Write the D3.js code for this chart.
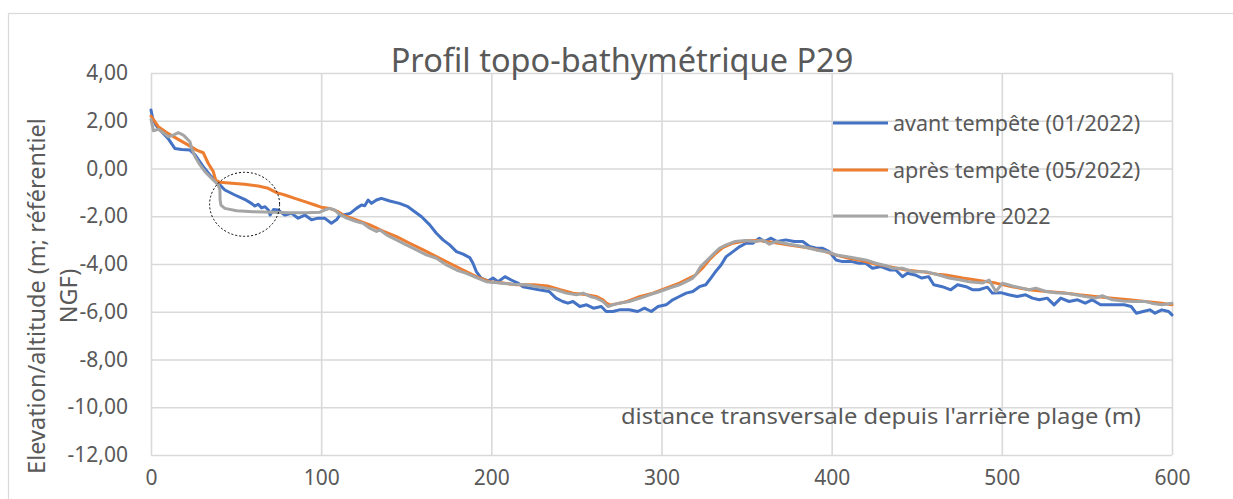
<!DOCTYPE html>
<html>
<head>
<meta charset="utf-8">
<script src="https://cdn.jsdelivr.net/npm/d3@7"></script>
<style>
  html, body { margin: 0; padding: 0; background: #ffffff; }
  svg { display: block; font-family: "Noto Sans", "Open Sans", sans-serif; }
</style>
</head>
<body>
<svg id="chart" width="1233" height="499"></svg>
<script>
// ---- Data ----
const title = "Profil topo-bathymétrique P29";
const yAxisTitle = ["Elevation/altitude (m; référentiel", "NGF)"];
const xAnnotation = "distance transversale depuis l'arrière plage (m)";
const seriesNames = ["avant tempête (01/2022)", "après tempête (05/2022)", "novembre 2022"];
const xTicks = [0, 100, 200, 300, 400, 500, 600];
const yTicks = [4, 2, 0, -2, -4, -6, -8, -10, -12];

const avant = [[0,2.45],[1,2.1],[3,1.8],[5.3,1.61],[10,1.26],[14,0.84],[18,0.80],[23,0.77],[26,0.56],[30.7,0.08],[34.6,-0.27],[38.6,-0.55],[43.4,-0.90],[49.3,-1.11],[55,-1.29],[59,-1.46],[61,-1.57],[63,-1.50],[65,-1.65],[67,-1.60],[69,-1.74],[70,-1.95],[72,-1.72],[74.7,-1.74],[78.6,-1.95],[82.6,-1.88],[86.5,-2.08],[90.4,-1.95],[94.3,-2.15],[98.2,-2.08],[102,-2.08],[106,-2.29],[109,-2.15],[111,-1.95],[113,-1.95],[117,-1.88],[120.7,-1.67],[123.7,-1.53],[125.6,-1.56],[127.6,-1.32],[129.6,-1.46],[132.5,-1.32],[135.4,-1.25],[140.3,-1.36],[146,-1.46],[151,-1.60],[155,-1.81],[159,-2.02],[163.8,-2.36],[167.7,-2.71],[171.6,-2.99],[175.5,-3.20],[179.5,-3.48],[183.4,-3.59],[187.3,-3.73],[189.2,-3.97],[191.2,-4.32],[194,-4.59],[198,-4.71],[201,-4.59],[204,-4.74],[208,-4.53],[211.7,-4.67],[215.6,-4.80],[218.6,-4.95],[222.5,-5.01],[228,-5.08],[234,-5.15],[238,-5.43],[242,-5.57],[245,-5.64],[248,-5.57],[252,-5.78],[256,-5.71],[260,-5.85],[264.6,-5.78],[267.5,-5.99],[271.4,-5.99],[275.3,-5.92],[281,-5.92],[286,-5.99],[290,-5.85],[294,-5.99],[298,-5.78],[302.7,-5.71],[306.6,-5.50],[310.5,-5.36],[314.5,-5.22],[318.4,-5.15],[322.3,-4.95],[326,-4.87],[329,-4.59],[332,-4.30],[335,-4.04],[338,-3.69],[342,-3.48],[346,-3.27],[349.7,-3.13],[353.6,-3.13],[357.5,-2.92],[360.4,-3.06],[364.4,-2.92],[368,-3.06],[373,-2.99],[378,-3.06],[383,-3.06],[387,-3.27],[391,-3.34],[394.7,-3.34],[398.6,-3.48],[402.5,-3.83],[406.4,-3.90],[412,-3.90],[416,-3.97],[420,-3.97],[424,-4.18],[429,-4.11],[434,-4.25],[437.7,-4.25],[441.6,-4.53],[444.5,-4.39],[449,-4.46],[453,-4.59],[457,-4.53],[460,-4.87],[465,-4.95],[470,-5.08],[474,-4.87],[479,-4.95],[483,-5.08],[486.6,-5.08],[491.5,-4.97],[494.4,-5.22],[499.4,-5.20],[504,-5.29],[509,-5.36],[514,-5.29],[518,-5.43],[522,-5.50],[526.7,-5.43],[530.7,-5.71],[534.6,-5.43],[539.5,-5.57],[544.5,-5.50],[549,-5.64],[553,-5.50],[558,-5.71],[562,-5.71],[567,-5.71],[572,-5.71],[576,-5.78],[579,-6.06],[583,-5.99],[587,-5.92],[590,-6.06],[594,-5.92],[598,-5.99],[600,-6.13]];

const apres = [[0,2.2],[4.3,1.75],[10,1.47],[16,1.22],[22,0.98],[26.8,0.77],[30.7,0.66],[33.6,0.22],[36.6,-0.13],[38,-0.48],[40.5,-0.58],[47.4,-0.62],[55,-0.66],[63,-0.73],[68.9,-0.83],[73.8,-1.01],[78.7,-1.11],[84.5,-1.25],[90.4,-1.39],[96.3,-1.53],[100,-1.62],[105,-1.67],[110,-1.81],[113,-1.95],[120.7,-2.15],[128.6,-2.36],[136.4,-2.62],[144.3,-2.85],[152,-3.13],[160,-3.41],[167.7,-3.69],[175.5,-3.97],[183.4,-4.25],[191.2,-4.53],[199,-4.74],[207,-4.80],[214.6,-4.87],[225,-4.87],[233,-4.92],[240.5,-5.08],[248,-5.22],[256,-5.29],[261.6,-5.36],[265.6,-5.50],[267.6,-5.64],[270,-5.72],[273.4,-5.67],[279.8,-5.57],[287.5,-5.36],[295,-5.22],[302.7,-5.01],[310.5,-4.80],[316.4,-4.59],[320,-4.46],[324,-4.18],[328,-3.83],[332,-3.55],[336,-3.31],[342,-3.13],[349.7,-3.03],[357.5,-3.02],[365,-3.09],[375,-3.20],[385,-3.31],[394.7,-3.45],[402.5,-3.62],[410,-3.76],[418,-3.87],[426,-4.01],[434,-4.11],[443.6,-4.25],[453,-4.32],[462,-4.43],[467,-4.46],[477,-4.59],[486.6,-4.69],[496.5,-4.80],[506,-4.95],[516,-5.08],[526,-5.15],[535.6,-5.20],[545.4,-5.29],[555,-5.36],[565,-5.43],[574.7,-5.50],[584.5,-5.57],[594,-5.64],[600,-5.71]];

const novembre = [[0,2.05],[1.4,1.58],[4.3,1.64],[7.2,1.50],[10.2,1.33],[13.1,1.40],[16,1.50],[19,1.40],[21,1.26],[22.9,1.12],[23.9,0.85],[25.8,0.50],[28.8,0.15],[31.7,-0.13],[34.6,-0.34],[37.6,-0.55],[39.5,-0.69],[40.5,-0.90],[40.6,-1.32],[41.1,-1.53],[43.4,-1.67],[50.3,-1.77],[60,-1.81],[71.8,-1.83],[81.6,-1.85],[91.4,-1.85],[99.2,-1.83],[102,-1.74],[105,-1.67],[108,-1.74],[110,-1.88],[115,-2.08],[120.7,-2.22],[124.6,-2.29],[128.6,-2.50],[132.5,-2.64],[134.4,-2.57],[138.4,-2.78],[144.2,-2.99],[150,-3.20],[156,-3.41],[161.8,-3.62],[167.7,-3.76],[173.6,-4.04],[179.5,-4.25],[185.3,-4.39],[191.2,-4.57],[197,-4.74],[205,-4.80],[212.7,-4.85],[220.5,-4.87],[224.4,-4.92],[232,-5.01],[238,-5.08],[244,-5.22],[250,-5.29],[254,-5.22],[258,-5.36],[261.6,-5.43],[265.6,-5.57],[268.5,-5.78],[271.4,-5.71],[275.3,-5.64],[281,-5.57],[287.5,-5.43],[293,-5.29],[299,-5.15],[304.7,-5.01],[310.5,-4.87],[314.5,-4.74],[318.4,-4.59],[320,-4.46],[323,-4.11],[326,-3.90],[330,-3.62],[334,-3.34],[338,-3.20],[343,-3.06],[349.7,-3.02],[355.5,-3.06],[359.5,-2.99],[363.4,-3.17],[367.3,-3.06],[375,-3.17],[383,-3.27],[390.7,-3.41],[398.6,-3.51],[402.5,-3.62],[408.4,-3.69],[414.3,-3.76],[420,-3.83],[426,-3.97],[432,-4.07],[435.8,-4.18],[441.6,-4.18],[447.5,-4.32],[455.4,-4.32],[463,-4.46],[469,-4.59],[475,-4.66],[480.8,-4.74],[488.6,-4.80],[492.5,-4.67],[496.5,-5.15],[500.4,-4.80],[506.2,-4.92],[512,-5.01],[516,-5.08],[520,-5.01],[526,-5.15],[531.7,-5.20],[537.5,-5.22],[543.4,-5.29],[549,-5.36],[555,-5.43],[559,-5.33],[565,-5.50],[571,-5.55],[577,-5.57],[584.5,-5.57],[588,-5.64],[594,-5.71],[600,-5.64]];

const seriesData = [avant, apres, novembre];
const seriesColors = ["#4472C4", "#ED7D31", "#A5A5A5"];

// ---- Layout ----
const W = 1233, H = 499;
const plot = { left: 151, right: 1172, top: 73, bottom: 455 };
const textColor = "#595959";
const gridColor = "#d9d9d9";

const svg = d3.select("#chart");

// outer chart frame
svg.append("rect")
  .attr("x", 8.5).attr("y", 13.5)
  .attr("width", W).attr("height", H)
  .attr("fill", "#ffffff").attr("stroke", "#d9d9d9").attr("stroke-width", 1.2);

const x = d3.scaleLinear().domain([0, 600]).range([plot.left, plot.right]);
const y = d3.scaleLinear().domain([-12, 4]).range([plot.bottom, plot.top]);

// gridlines via axes
svg.append("g")
  .attr("transform", `translate(0,${plot.bottom})`)
  .call(d3.axisBottom(x).tickValues(xTicks).tickSize(-(plot.bottom - plot.top)).tickFormat(""))
  .call(g => g.select(".domain").remove())
  .call(g => g.selectAll("line").attr("stroke", gridColor).attr("stroke-width", 1.6));

svg.append("g")
  .attr("transform", `translate(${plot.left},0)`)
  .call(d3.axisLeft(y).tickValues(yTicks).tickSize(-(plot.right - plot.left)).tickFormat(""))
  .call(g => g.select(".domain").remove())
  .call(g => g.selectAll("line").attr("stroke", gridColor).attr("stroke-width", 1.6));

// tick labels
const fmt = v => v.toFixed(2).replace(".", ",");
svg.append("g")
  .attr("transform", `translate(${plot.left - 23},0)`)
  .call(d3.axisLeft(y).tickValues(yTicks).tickSize(0).tickPadding(0).tickFormat(fmt))
  .call(g => g.select(".domain").remove())
  .call(g => g.selectAll("text")
    .attr("fill", textColor).attr("font-size", 21)
    .attr("font-family", "'Noto Sans', sans-serif"));

svg.append("g")
  .attr("transform", `translate(0,${plot.bottom + 15})`)
  .call(d3.axisBottom(x).tickValues(xTicks).tickSize(0).tickPadding(0).tickFormat(d3.format("d")))
  .call(g => g.select(".domain").remove())
  .call(g => g.selectAll("text")
    .attr("fill", textColor).attr("font-size", 21)
    .attr("font-family", "'Noto Sans', sans-serif"));

// series lines
const line = d3.line().x(d => x(d[0])).y(d => y(d[1]));
seriesData.forEach((s, i) => {
  svg.append("path")
    .datum(s)
    .attr("d", line)
    .attr("fill", "none")
    .attr("stroke", seriesColors[i])
    .attr("stroke-width", 3)
    .attr("stroke-linejoin", "round")
    .attr("stroke-linecap", "round");
});

// dotted ellipse annotation
svg.append("ellipse")
  .attr("cx", x(55)).attr("cy", y(-1.5))
  .attr("rx", 35).attr("ry", 32)
  .attr("fill", "none").attr("stroke", "#000").attr("stroke-width", 1)
  .attr("stroke-dasharray", "2,2");

// title
svg.append("text")
  .attr("x", 622).attr("y", 72)
  .attr("text-anchor", "middle")
  .attr("fill", textColor).attr("font-size", 32.5)
  .text(title);

// y axis title (two lines)
yAxisTitle.forEach((t, i) => {
  svg.append("text")
    .attr("transform", `translate(${45 + i * 32},296) rotate(-90)`)
    .attr("text-anchor", "middle")
    .attr("fill", textColor).attr("font-size", 23.5)
    .text(t);
});

// annotation (x axis description)
svg.append("text")
  .attr("x", 1141).attr("y", 424)
  .attr("text-anchor", "end")
  .attr("fill", textColor).attr("font-size", 22.5)
  .attr("textLength", 520).attr("lengthAdjust", "spacingAndGlyphs")
  .text(xAnnotation);

// legend
const legendYs = [123, 170, 216];
seriesNames.forEach((name, i) => {
  svg.append("line")
    .attr("x1", 833).attr("x2", 888)
    .attr("y1", legendYs[i]).attr("y2", legendYs[i])
    .attr("stroke", seriesColors[i]).attr("stroke-width", 3);
  svg.append("text")
    .attr("x", 893).attr("y", legendYs[i])
    .attr("dy", "0.35em")
    .attr("fill", textColor).attr("font-size", 21.5)
    .text(name);
});
</script>
</body>
</html>
